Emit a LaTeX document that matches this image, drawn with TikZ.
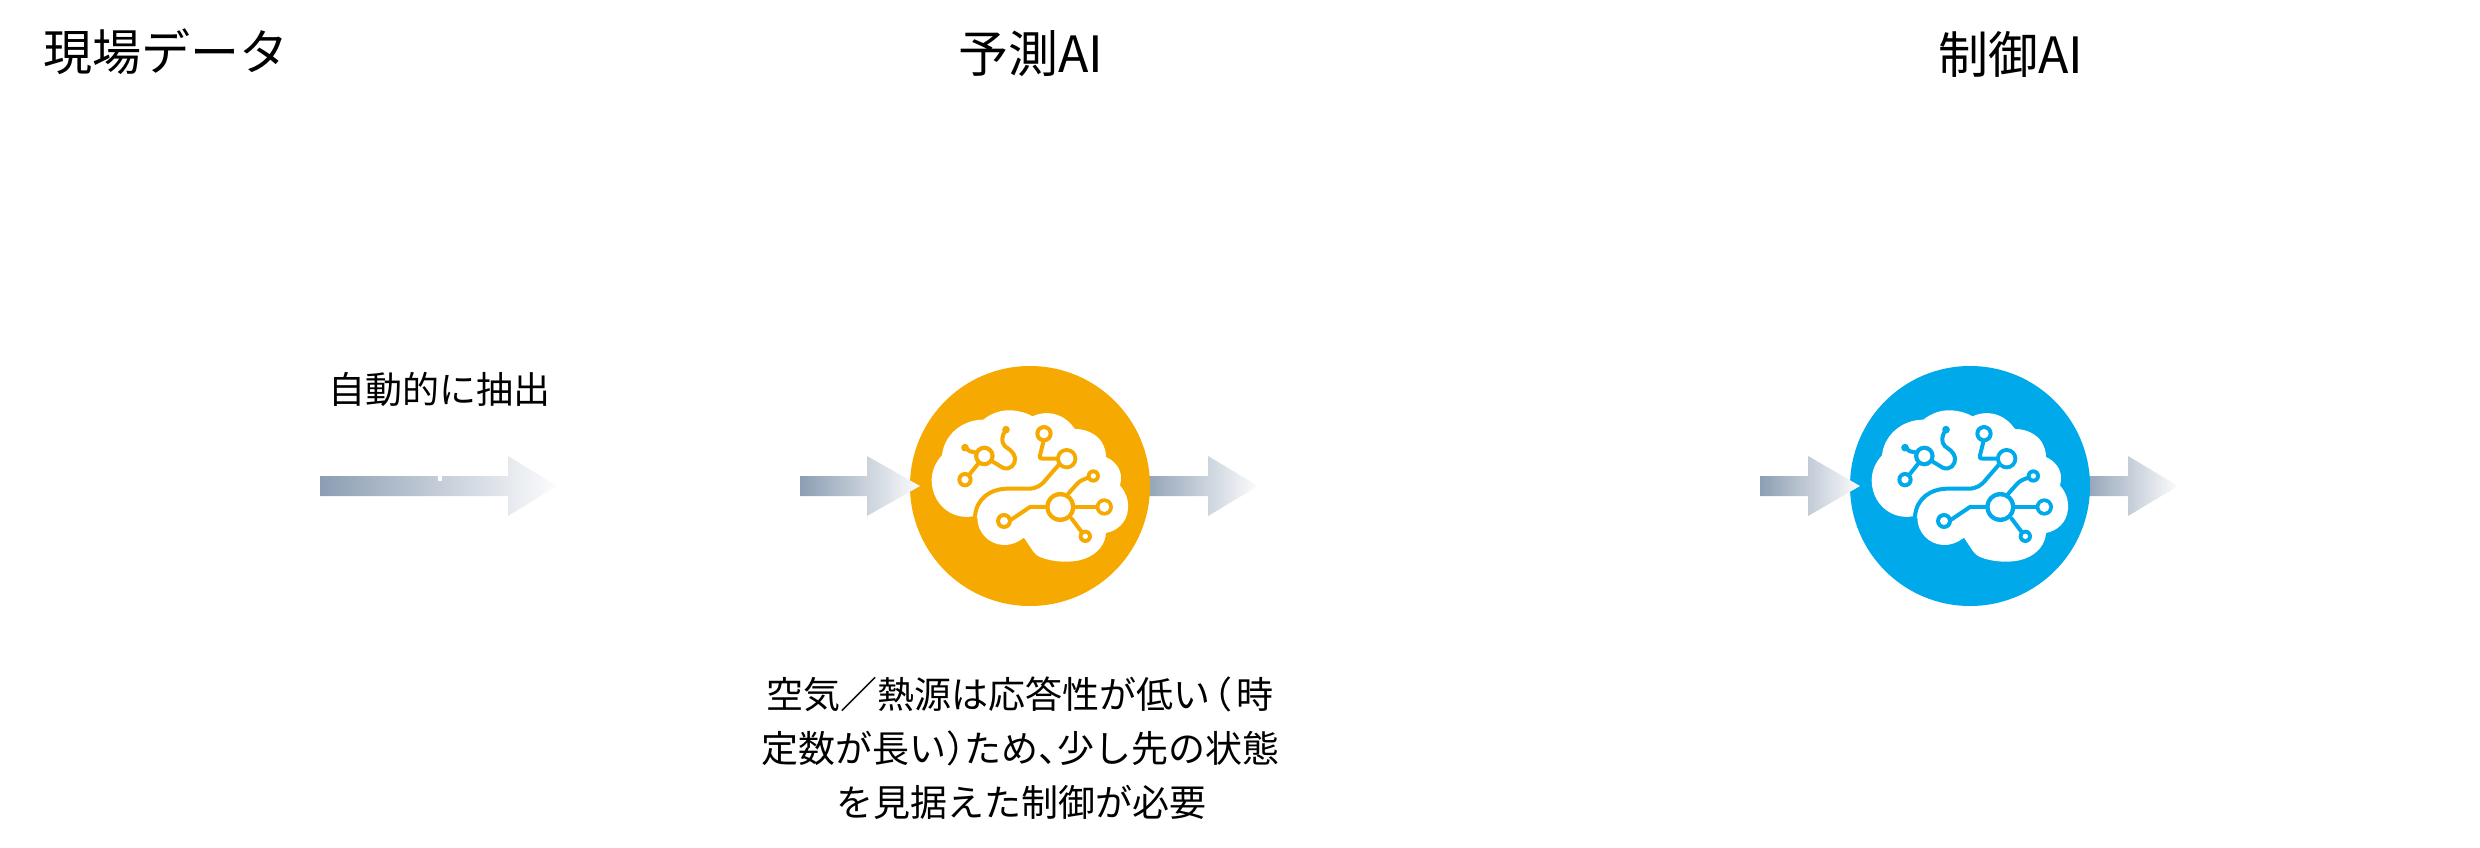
\documentclass[tikz,border=0pt]{standalone}
\usepackage{fontspec}
\setmainfont{Noto Sans CJK JP}
\usetikzlibrary{shadings}
\definecolor{barstart}{HTML}{8C9EB3}
\definecolor{barend}{HTML}{FCFCFD}
\definecolor{orangec}{HTML}{F6A900}
\definecolor{bluec}{HTML}{00A9E9}
\newcommand{\gradarrow}[3]{%
  \shade[left color=barstart,right color=barend]
  (#1,476) -- (#2,476) -- (#2,456) -- (#3,486) -- (#2,516) -- (#2,496) -- (#1,496) -- cycle;}
\newcommand{\hk}{\kern-.5em}
\tikzset{
  titletext/.style={inner sep=0pt,font=\fontsize{49}{58}\selectfont,text=black},
  bodytext/.style={inner sep=0pt,font=\fontsize{37}{44}\selectfont,text=black},
  pics/brain/.style={code={
    \begin{scope}[xshift=-150pt,yshift=145.667pt,x=0.3333pt,y=-0.3333pt]
      % silhouette
      \fill[white] (310,238) .. controls (335,218) and (365,208) .. (395,210)
        .. controls (420,212) and (440,218) .. (458,228)
        .. controls (480,217) and (510,215) .. (535,225)
        .. controls (555,232) and (572,248) .. (585,266)
        .. controls (620,266) and (650,282) .. (665,305)
        .. controls (674,320) and (678,335) .. (678,350)
        .. controls (705,362) and (722,385) .. (723,410)
        .. controls (723,420) and (722,428) .. (720,436)
        .. controls (738,455) and (746,480) .. (744,505)
        .. controls (742,545) and (712,572) .. (678,578)
        .. controls (676,610) and (655,640) .. (615,655)
        .. controls (575,670) and (515,665) .. (480,650)
        .. controls (468,645) and (460,635) .. (452,622)
        -- (432,592)
        .. controls (415,605) and (395,615) .. (370,614)
        .. controls (325,612) and (292,575) .. (292,532)
        -- (283,527)
        .. controls (260,532) and (235,530) .. (212,518)
        .. controls (175,498) and (155,460) .. (155,420)
        .. controls (155,392) and (167,365) .. (186,345)
        .. controls (192,285) and (245,238) .. (310,238) -- cycle;
      % wires
      \begin{scope}[draw=#1,line width=4pt,line cap=round,line join=round]
        \draw (255,322) -- (270,333) -- (290,337);
        \draw (293,372) -- (268,403);
        \draw (340,365) -- (368,382) .. controls (390,392) and (408,372) .. (405,352)
          .. controls (402,335) and (385,325) .. (375,318)
          .. controls (362,305) and (365,285) .. (378,268);
        \draw (490,305) -- (480,345) .. controls (478,355) and (482,355) .. (490,355) -- (530,355);
        \draw (535,375) -- (500,415) .. controls (485,435) and (470,445) .. (445,445)
          -- (385,445) .. controls (330,445) and (290,475) .. (285,527);
        \draw (497,500) -- (450,500) -- (395,537);
        \draw (585,500) -- (650,500);
        \draw (565,460) -- (590,432) .. controls (600,420) and (612,417) .. (625,412);
        \draw (575,535) -- (605,575);
      \end{scope}
      % solid ends
      \fill[#1] (255,322) circle[radius=11.5];
      \fill[#1] (378,268) circle[radius=11.5];
      % rings
      \foreach \cx/\cy/\ro/\ri in {313/347/31/18, 255/418/23/11, 492/280/26/14,
          560/355/32/20, 541/500/45/32, 372/542/24/12, 673/500/26/15,
          640/407/20/8, 616/588/20/8}{
        \fill[#1] (\cx,\cy) circle[radius=\ro];
        \fill[white] (\cx,\cy) circle[radius=\ri];
      }
    \end{scope}
  }}
}
\begin{document}
\begin{tikzpicture}[x=1pt,y=-1pt]
  \useasboundingbox (0,0) rectangle (2480,848);
  \fill[white] (0,0) rectangle (2480,848);

  % arrows that pass behind the circles
  \gradarrow{1140}{1208}{1258}
  \gradarrow{2080}{2128}{2178}
  % circles
  \node[circle,fill=orangec,minimum size=240pt,inner sep=0pt] (pred) at (1030,486) {};
  \node[circle,fill=bluec,minimum size=240pt,inner sep=0pt] (ctrl) at (1970,486) {};
  \pic at (pred.center) {brain=orangec};
  \pic at (ctrl.center) {brain=bluec};
  % arrows that lie on the circles
  \gradarrow{320}{508}{557}
  \fill[white] (438,476) rectangle (442,481);
  \gradarrow{800}{867}{920}
  \gradarrow{1760}{1808}{1860}

  % texts
  \node[titletext,anchor=west] (t1) at (43,52) {現場データ};
  \node[titletext,font=\fontsize{50}{58}\selectfont] (t2) at (1031,54) {予測AI};
  \node[titletext,font=\fontsize{50}{58}\selectfont] (t3) at (2011,54) {制御AI};
  \node[bodytext] (extract) at (439,389) {自動的に抽出};
  \node[bodytext] (l1) at (1020,694) {空気／熱源は応答性が低い\kern-.42em（\kern.1em 時};
  \node[bodytext] (l2) at (1020,748) {定数が長い）\hk ため、\hk 少し先の状態};
  \node[bodytext] (l3) at (1021,802) {を見据えた制御が必要};
\end{tikzpicture}
\end{document}
